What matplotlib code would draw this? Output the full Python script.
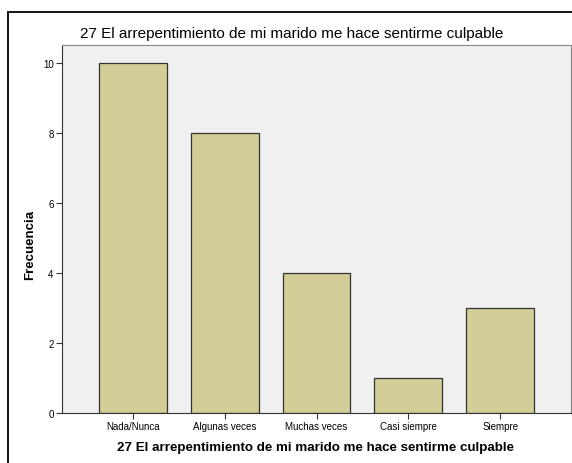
import matplotlib
matplotlib.use('Agg')
import matplotlib.pyplot as plt
from matplotlib.patches import Rectangle

plt.rcParams['font.family'] = ['Liberation Sans', 'DejaVu Sans']

categorias = ['Nada/Nunca', 'Algunas veces', 'Muchas veces', 'Casi siempre', 'Siempre']
frecuencias = [10, 8, 4, 1, 3]
yticks = [0, 2, 4, 6, 8, 10]
titulo = '27 El arrepentimiento de mi marido me hace sentirme culpable'

W, H = 572, 464
fig = plt.figure(figsize=(W / 100, H / 100), dpi=100)
fig.patch.set_facecolor('white')

# marco exterior (se sale por la derecha y por abajo)
fig.patches.append(Rectangle((8 / W, -0.05), 1.2, 1 - 13 / H + 0.05, transform=fig.transFigure,
                             fill=False, edgecolor='black', linewidth=1.3))

# area del grafico
ax = fig.add_axes([62 / W, 1 - 414 / H, (571 - 62) / W, (414 - 46) / H])
ax.set_facecolor('#f0f0f0')
x = list(range(len(categorias)))
ax.bar(x, frecuencias, width=0.74, color='#d3ce97', edgecolor='#333333', linewidth=0.9)
ax.set_xlim(-0.77, len(categorias) - 1 + 0.77)
ax.set_ylim(0, 10.51)
ax.set_xticks(x)
ax.set_xticklabels(categorias, fontsize=7)
ax.set_yticks(yticks)
ax.set_yticklabels([str(v) for v in yticks], fontsize=7)
ax.tick_params(length=4, width=0.8, color='#333333', pad=2)
for s in ['left', 'bottom']:
    ax.spines[s].set_color('#333333')
for s in ['top', 'right']:
    ax.spines[s].set_color('#888888')

fig.text(292 / W, 1 - 34 / H, titulo, ha='center', va='center', fontsize=11)
fig.text(316 / W, 1 - 448 / H, titulo, ha='center', va='center', fontsize=9.6, fontweight='bold')
fig.text(30 / W, 1 - 245 / H, 'Frecuencia', ha='center', va='center', rotation=90,
         fontsize=9.5, fontweight='bold')

fig.savefig('out.png', dpi=100)
